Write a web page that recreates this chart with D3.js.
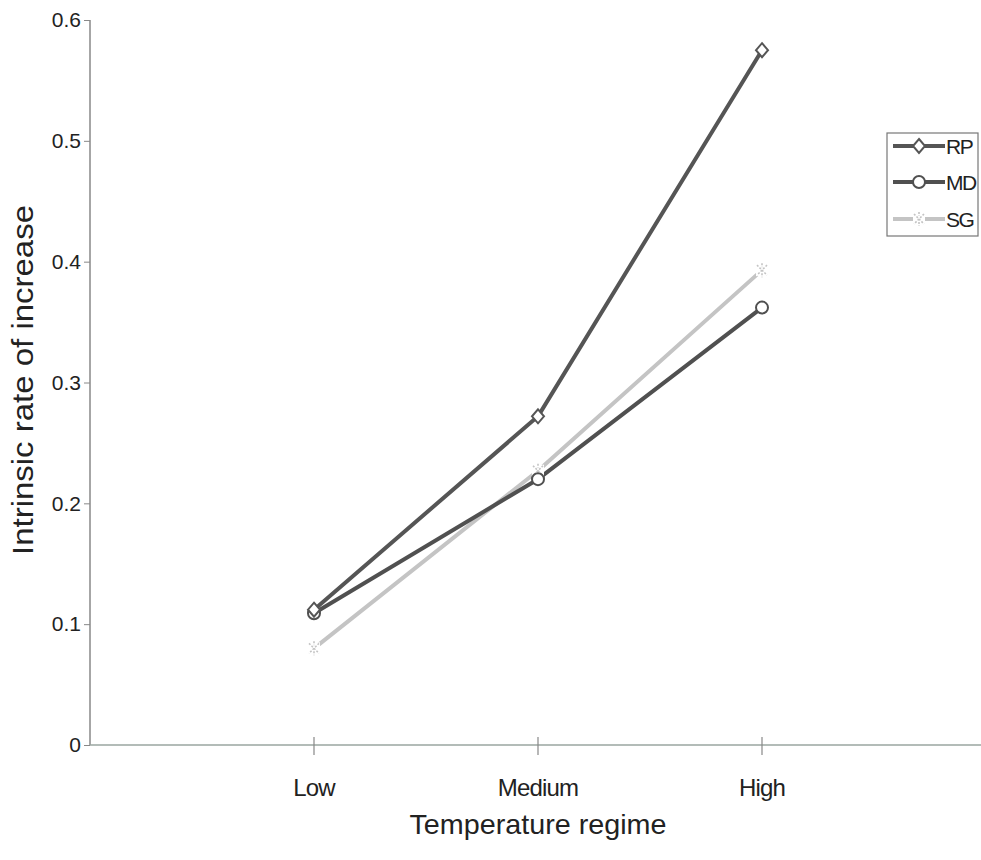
<!DOCTYPE html>
<html><head><meta charset="utf-8">
<script src="https://cdn.jsdelivr.net/npm/d3@7"></script>
<style>body{margin:0;background:#fff;}svg{display:block;font-family:Arial,"Liberation Sans",sans-serif;}</style>
</head><body><svg id="c" width="981" height="860"></svg>
<script>
const categories = ["Low", "Medium", "High"];
const yTicks = [0, 0.1, 0.2, 0.3, 0.4, 0.5, 0.6];
const seriesNames = ["RP", "MD", "SG"];
const rpValues = [0.112, 0.272, 0.575];
const mdValues = [0.109, 0.220, 0.362];
const sgValues = [0.080, 0.227, 0.393];

const series = [
  {name: seriesNames[0], values: rpValues, color: "#555", marker: "diamond", width: 4},
  {name: seriesNames[1], values: mdValues, color: "#505050", marker: "circle", width: 4},
  {name: seriesNames[2], values: sgValues, color: "#c4c4c4", marker: "cross", width: 4}
];

const svg = d3.select("#c");
const x = d3.scaleLinear().domain([0, categories.length + 1]).range([90, 986]);
const y = d3.scaleLinear().domain([0, 0.6]).range([745, 20]);

// y axis
const yAxis = d3.axisLeft(y).tickValues(yTicks).tickSize(6).tickPadding(3).tickFormat(d => d === 0 ? "0" : d3.format(".1f")(d));
const gy = svg.append("g").attr("transform", "translate(90,0)").call(yAxis);
gy.select(".domain").attr("stroke", "#888").attr("stroke-width", 1.5).attr("d", "M0,20V745");
gy.selectAll(".tick line").attr("stroke", "#888");
gy.selectAll(".tick text").attr("font-size", 21).attr("fill", "#222").attr("font-family", "Arial, 'Liberation Sans', sans-serif");

// x axis
const gx = svg.append("g").attr("transform", "translate(0,745)");
gx.append("line").attr("x1", 90).attr("x2", 981).attr("y1", 0).attr("y2", 0).attr("stroke", "#9aa6a0").attr("stroke-width", 1.5);
categories.forEach((c, i) => {
  const cx = x(i + 1);
  gx.append("line").attr("x1", cx).attr("x2", cx).attr("y1", -8).attr("y2", 10).attr("stroke", "#888").attr("stroke-width", 1.2);
  gx.append("text").attr("x", cx).attr("y", 51).attr("text-anchor", "middle").attr("font-size", 24).attr("fill", "#222").attr("letter-spacing", -0.8).text(c);
});

// axis titles
svg.append("text").attr("x", 538).attr("y", 834).attr("text-anchor", "middle").attr("font-size", 28).attr("fill", "#222")
  .attr("textLength", 257).attr("lengthAdjust", "spacingAndGlyphs").text("Temperature regime");
svg.append("text").attr("transform", "translate(33,380) rotate(-90)").attr("text-anchor", "middle").attr("font-size", 29).attr("fill", "#222")
  .attr("textLength", 350).attr("lengthAdjust", "spacingAndGlyphs").text("Intrinsic rate of increase");

const line = d3.line().x((d, i) => x(i + 1)).y(d => y(d));

function drawMarker(g, type, cx, cy, color) {
  if (type === "diamond") {
    g.append("path").attr("d", `M${cx},${cy-7}L${cx+6},${cy}L${cx},${cy+7}L${cx-6},${cy}Z`)
      .attr("fill", "#fff").attr("stroke", color).attr("stroke-width", 2);
  } else if (type === "circle") {
    g.append("circle").attr("cx", cx).attr("cy", cy).attr("r", 6).attr("fill", "#fff").attr("stroke", color).attr("stroke-width", 2);
  } else {
    g.append("rect").attr("x", cx-6).attr("y", cy-6).attr("width", 12).attr("height", 12).attr("fill", "#fff").attr("stroke", "none");
    g.append("path").attr("d", `M${cx-5},${cy-5}L${cx+5},${cy+5}M${cx+5},${cy-5}L${cx-5},${cy+5}M${cx},${cy-7}V${cy-3}M${cx},${cy+3}V${cy+7}`)
      .attr("stroke", color).attr("stroke-width", 1.6).attr("stroke-dasharray", "2,1.5").attr("fill", "none");
  }
}

// draw lines in order SG, MD, RP
const order = [2, 1, 0];
order.forEach(k => {
  const s = series[k];
  svg.append("path").datum(s.values).attr("d", line).attr("fill", "none").attr("stroke", s.color).attr("stroke-width", s.width)
    .attr("stroke-linejoin", "round");
});
order.forEach(k => {
  const s = series[k];
  const g = svg.append("g");
  s.values.forEach((v, i) => drawMarker(g, s.marker, x(i + 1), y(v), s.color));
});

// legend
const lg = svg.append("g");
lg.append("rect").attr("x", 887).attr("y", 133).attr("width", 91).attr("height", 103).attr("fill", "#fff").attr("stroke", "#777").attr("stroke-width", 1.2);
const legY = [146, 182, 219];
series.forEach((s, i) => {
  const ly = legY[i];
  lg.append("line").attr("x1", 893).attr("x2", 945).attr("y1", ly).attr("y2", ly).attr("stroke", s.color).attr("stroke-width", s.width);
  drawMarker(lg, s.marker, 919, ly, s.color);
  lg.append("text").attr("x", 946).attr("y", ly + 8).attr("font-size", 21).attr("fill", "#222").attr("letter-spacing", -1.5).text(s.name);
});
</script></body></html>
